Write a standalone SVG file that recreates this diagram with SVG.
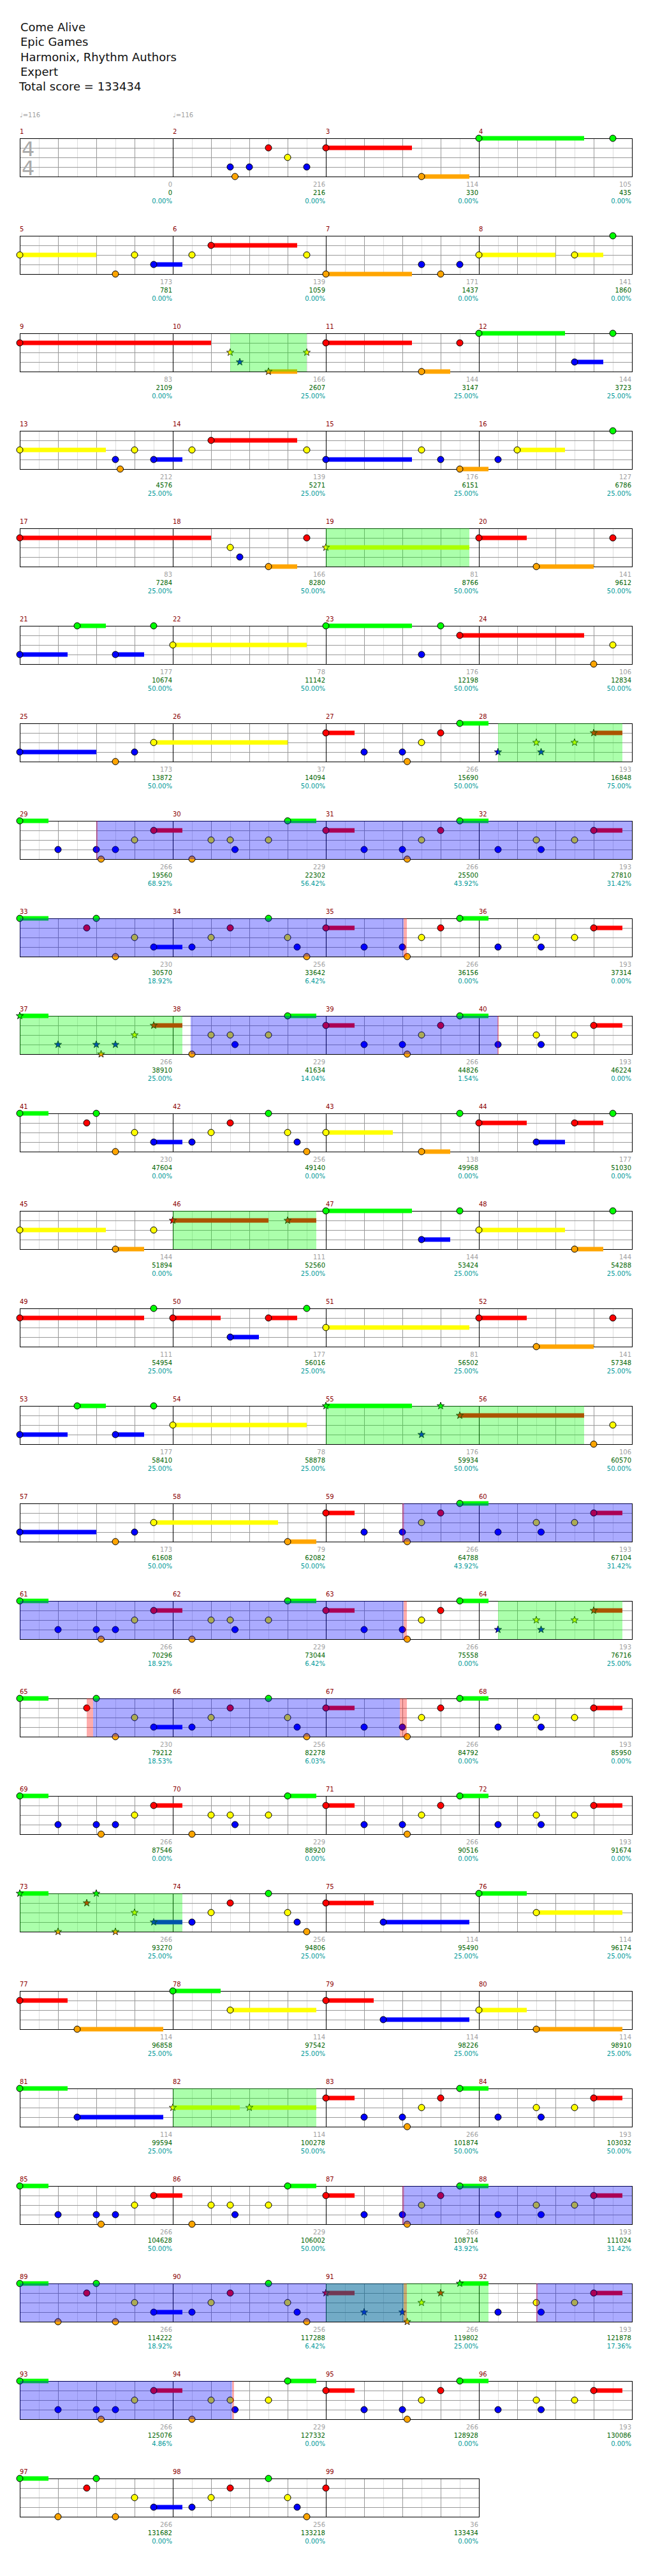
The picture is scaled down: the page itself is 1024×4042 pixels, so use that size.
<svg xmlns="http://www.w3.org/2000/svg" xmlns:xlink="http://www.w3.org/1999/xlink" width="1024" height="4042" viewBox="0 0 1024 4042">
<style>
text{font-family:"DejaVu Sans",Verdana,sans-serif}
.h{font-size:18px;fill:#111}
.mn{font-size:10px;fill:#8b0000}
.t{font-size:10px;fill:#a0a0a0}
.s1,.s2,.s3{font-size:10px;text-anchor:end}
.s1{fill:#a0a0a0}.s2{fill:#006400}.s3{fill:#009999}
.ts{font-size:32px;fill:#aaa}
.lt{stroke:#ddd;fill:none}.gr{stroke:#999;fill:none}.bk{stroke:#000;fill:none}
.G{fill:#0f0}.R{fill:#f00}.Y{fill:#ff0}.B{fill:#00f}.O{fill:#ffa500}
circle{stroke:#000;stroke-width:1}
.sp{fill:#0f0;fill-opacity:.33}.od{fill:#00f;fill-opacity:.33}.rs{fill:#f00;fill-opacity:.33}
</style>
<defs>
<path id="st" d="M0-6L1.41-1.94 5.71-1.85 2.28.74 3.53 4.85 0 2.4-3.53 4.85-2.28.74-5.71-1.85-1.41-1.94Z" stroke="#000" stroke-width=".8"/>
<g id="grid4" shape-rendering="crispEdges">
<path class="lt" d="M61 0v60M121 0v60M181 0v60M241 0v60M301 0v60M361 0v60M421 0v60M481 0v60M541 0v60M601 0v60M661 0v60M721 0v60M781 0v60M841 0v60M901 0v60M961 0v60"/>
<path class="gr" d="M91 0v60M151 0v60M211 0v60M331 0v60M391 0v60M451 0v60M571 0v60M631 0v60M691 0v60M811 0v60M871 0v60M931 0v60M31 15H991M31 30H991M31 45H991"/>
<path class="bk" d="M31 0H991V60H31ZM271 0v60M511 0v60M751 0v60"/>
</g>
<g id="grid3" shape-rendering="crispEdges">
<path class="lt" d="M61 0v60M121 0v60M181 0v60M241 0v60M301 0v60M361 0v60M421 0v60M481 0v60M541 0v60M601 0v60M661 0v60M721 0v60"/>
<path class="gr" d="M91 0v60M151 0v60M211 0v60M331 0v60M391 0v60M451 0v60M571 0v60M631 0v60M691 0v60M31 15H751M31 30H751M31 45H751"/>
<path class="bk" d="M31 0H751V60H31ZM271 0v60M511 0v60"/>
</g>
<g id="p1">
<rect class="G" x="31" y="-3.5" width="45" height="7"/><rect class="R" x="241" y="11.5" width="45" height="7"/><rect class="G" x="451" y="-3.5" width="45" height="7"/>
<circle class="G" cx="31" cy="0" r="5"/><circle class="B" cx="91" cy="45" r="5"/><circle class="B" cx="151" cy="45" r="5"/><circle class="O" cx="158.5" cy="60" r="5"/><circle class="B" cx="181" cy="45" r="5"/><circle class="Y" cx="211" cy="30" r="5"/><circle class="R" cx="241" cy="15" r="5"/><circle class="O" cx="301" cy="60" r="5"/><circle class="Y" cx="331" cy="30" r="5"/><circle class="Y" cx="361" cy="30" r="5"/><circle class="B" cx="368.5" cy="45" r="5"/><circle class="Y" cx="421" cy="30" r="5"/><circle class="G" cx="451" cy="0" r="5"/>
</g>
<g id="p2a">
<rect class="R" x="511" y="11.5" width="45" height="7"/><rect class="G" x="721" y="-3.5" width="45" height="7"/><rect class="R" x="931" y="11.5" width="45" height="7"/>
<circle class="R" cx="511" cy="15" r="5"/><circle class="B" cx="571" cy="45" r="5"/><circle class="B" cx="631" cy="45" r="5"/><circle class="O" cx="638.5" cy="60" r="5"/><circle class="Y" cx="661" cy="30" r="5"/><circle class="R" cx="691" cy="15" r="5"/><circle class="G" cx="721" cy="0" r="5"/>
</g>
<g id="p2">
<use href="#p2a"/>
<circle class="B" cx="781" cy="45" r="5"/><circle class="Y" cx="841" cy="30" r="5"/><circle class="B" cx="848.5" cy="45" r="5"/><circle class="Y" cx="901" cy="30" r="5"/><circle class="R" cx="931" cy="15" r="5"/>
</g>
<g id="p2s">
<use href="#p2a"/>
<use href="#st" class="B" x="781" y="45"/><use href="#st" class="Y" x="841" y="30"/><use href="#st" class="B" x="848.5" y="45"/><use href="#st" class="Y" x="901" y="30"/><use href="#st" class="R" x="931" y="15"/>
</g>
<g id="p3">
<rect class="G" x="31" y="-3.5" width="45" height="7"/><rect class="B" x="241" y="41.5" width="45" height="7"/>
<circle class="G" cx="31" cy="0" r="5"/><circle class="R" cx="136" cy="15" r="5"/><circle class="G" cx="151" cy="0" r="5"/><circle class="O" cx="181" cy="60" r="5"/><circle class="Y" cx="211" cy="30" r="5"/><circle class="B" cx="241" cy="45" r="5"/><circle class="B" cx="301" cy="45" r="5"/><circle class="Y" cx="331" cy="30" r="5"/><circle class="R" cx="361" cy="15" r="5"/><circle class="G" cx="421" cy="0" r="5"/><circle class="Y" cx="451" cy="30" r="5"/><circle class="B" cx="466" cy="45" r="5"/><circle class="O" cx="481" cy="60" r="5"/>
</g>
</defs>
<rect width="1024" height="4042" fill="#fff"/>
<g id="header">
<text class="h" x="32" y="49">Come Alive</text>
<text class="h" x="32" y="72">Epic Games</text>
<text class="h" x="32" y="96">Harmonix, Rhythm Authors</text>
<text class="h" x="32" y="119">Expert</text>
<text class="h" x="30" y="142">Total score = 133434</text>
</g>

<g id="row1" transform="translate(0,217)">
<use href="#grid4"/>
<text class="ts" x="34" y="28">4</text><text class="ts" x="34" y="58">4</text>
<rect class="R" x="511" y="11.5" width="135" height="7"/><rect class="O" x="661" y="56.5" width="75" height="7"/><rect class="G" x="751" y="-3.5" width="165" height="7"/>
<circle class="B" cx="361" cy="45" r="5"/><circle class="O" cx="368.5" cy="60" r="5"/><circle class="B" cx="391" cy="45" r="5"/><circle class="R" cx="421" cy="15" r="5"/><circle class="Y" cx="451" cy="30" r="5"/><circle class="B" cx="481" cy="45" r="5"/><circle class="R" cx="511" cy="15" r="5"/><circle class="O" cx="661" cy="60" r="5"/><circle class="G" cx="751" cy="0" r="5"/><circle class="G" cx="961" cy="0" r="5"/>
<text class="t" x="31" y="-33">♩=116</text><text class="t" x="271" y="-33">♩=116</text>
<text class="mn" x="31" y="-7">1</text><text class="mn" x="271" y="-7">2</text><text class="mn" x="511" y="-7">3</text><text class="mn" x="751" y="-7">4</text>
<text class="s1" x="270" y="76">0</text><text class="s2" x="270" y="89">0</text><text class="s3" x="270" y="102">0.00%</text>
<text class="s1" x="510" y="76">216</text><text class="s2" x="510" y="89">216</text><text class="s3" x="510" y="102">0.00%</text>
<text class="s1" x="750" y="76">114</text><text class="s2" x="750" y="89">330</text><text class="s3" x="750" y="102">0.00%</text>
<text class="s1" x="990" y="76">105</text><text class="s2" x="990" y="89">435</text><text class="s3" x="990" y="102">0.00%</text>
</g>

<g id="row2" transform="translate(0,370)">
<use href="#grid4"/>
<rect class="Y" x="31" y="26.5" width="120" height="7"/><rect class="B" x="241" y="41.5" width="45" height="7"/><rect class="R" x="331" y="11.5" width="135" height="7"/><rect class="O" x="511" y="56.5" width="135" height="7"/><rect class="Y" x="751" y="26.5" width="120" height="7"/><rect class="Y" x="901" y="26.5" width="45" height="7"/>
<circle class="Y" cx="31" cy="30" r="5"/><circle class="O" cx="181" cy="60" r="5"/><circle class="Y" cx="211" cy="30" r="5"/><circle class="B" cx="241" cy="45" r="5"/><circle class="Y" cx="301" cy="30" r="5"/><circle class="R" cx="331" cy="15" r="5"/><circle class="Y" cx="481" cy="30" r="5"/><circle class="O" cx="511" cy="60" r="5"/><circle class="B" cx="661" cy="45" r="5"/><circle class="O" cx="691" cy="60" r="5"/><circle class="B" cx="721" cy="45" r="5"/><circle class="Y" cx="751" cy="30" r="5"/><circle class="Y" cx="901" cy="30" r="5"/><circle class="G" cx="961" cy="0" r="5"/>
<text class="mn" x="31" y="-7">5</text><text class="mn" x="271" y="-7">6</text><text class="mn" x="511" y="-7">7</text><text class="mn" x="751" y="-7">8</text>
<text class="s1" x="270" y="76">173</text><text class="s2" x="270" y="89">781</text><text class="s3" x="270" y="102">0.00%</text>
<text class="s1" x="510" y="76">139</text><text class="s2" x="510" y="89">1059</text><text class="s3" x="510" y="102">0.00%</text>
<text class="s1" x="750" y="76">171</text><text class="s2" x="750" y="89">1437</text><text class="s3" x="750" y="102">0.00%</text>
<text class="s1" x="990" y="76">141</text><text class="s2" x="990" y="89">1860</text><text class="s3" x="990" y="102">0.00%</text>
</g>

<g id="row3" transform="translate(0,523)">
<use href="#grid4"/>
<rect class="R" x="31" y="11.5" width="300" height="7"/><rect class="O" x="421" y="56.5" width="45" height="7"/><rect class="R" x="511" y="11.5" width="135" height="7"/><rect class="O" x="661" y="56.5" width="45" height="7"/><rect class="G" x="751" y="-3.5" width="135" height="7"/><rect class="B" x="901" y="41.5" width="45" height="7"/>
<circle class="R" cx="31" cy="15" r="5"/><circle class="R" cx="511" cy="15" r="5"/><circle class="O" cx="661" cy="60" r="5"/><circle class="R" cx="721" cy="15" r="5"/><circle class="G" cx="751" cy="0" r="5"/><circle class="B" cx="901" cy="45" r="5"/><circle class="G" cx="961" cy="0" r="5"/>
<use href="#st" class="Y" x="361" y="30"/><use href="#st" class="B" x="376" y="45"/><use href="#st" class="O" x="421" y="60"/><use href="#st" class="Y" x="481" y="30"/>
<rect class="sp" x="361" y="0" width="120" height="60"/>
<text class="mn" x="31" y="-7">9</text><text class="mn" x="271" y="-7">10</text><text class="mn" x="511" y="-7">11</text><text class="mn" x="751" y="-7">12</text>
<text class="s1" x="270" y="76">83</text><text class="s2" x="270" y="89">2109</text><text class="s3" x="270" y="102">0.00%</text>
<text class="s1" x="510" y="76">166</text><text class="s2" x="510" y="89">2607</text><text class="s3" x="510" y="102">25.00%</text>
<text class="s1" x="750" y="76">144</text><text class="s2" x="750" y="89">3147</text><text class="s3" x="750" y="102">25.00%</text>
<text class="s1" x="990" y="76">144</text><text class="s2" x="990" y="89">3723</text><text class="s3" x="990" y="102">25.00%</text>
</g>

<g id="row4" transform="translate(0,676)">
<use href="#grid4"/>
<rect class="Y" x="31" y="26.5" width="135" height="7"/><rect class="B" x="241" y="41.5" width="45" height="7"/><rect class="R" x="331" y="11.5" width="135" height="7"/><rect class="B" x="511" y="41.5" width="135" height="7"/><rect class="O" x="721" y="56.5" width="45" height="7"/><rect class="Y" x="811" y="26.5" width="75" height="7"/>
<circle class="Y" cx="31" cy="30" r="5"/><circle class="B" cx="181" cy="45" r="5"/><circle class="O" cx="188.5" cy="60" r="5"/><circle class="Y" cx="211" cy="30" r="5"/><circle class="B" cx="241" cy="45" r="5"/><circle class="Y" cx="301" cy="30" r="5"/><circle class="R" cx="331" cy="15" r="5"/><circle class="Y" cx="481" cy="30" r="5"/><circle class="B" cx="511" cy="45" r="5"/><circle class="Y" cx="661" cy="30" r="5"/><circle class="B" cx="691" cy="45" r="5"/><circle class="O" cx="721" cy="60" r="5"/><circle class="B" cx="781" cy="45" r="5"/><circle class="Y" cx="811" cy="30" r="5"/><circle class="G" cx="961" cy="0" r="5"/>
<text class="mn" x="31" y="-7">13</text><text class="mn" x="271" y="-7">14</text><text class="mn" x="511" y="-7">15</text><text class="mn" x="751" y="-7">16</text>
<text class="s1" x="270" y="76">212</text><text class="s2" x="270" y="89">4576</text><text class="s3" x="270" y="102">25.00%</text>
<text class="s1" x="510" y="76">139</text><text class="s2" x="510" y="89">5271</text><text class="s3" x="510" y="102">25.00%</text>
<text class="s1" x="750" y="76">176</text><text class="s2" x="750" y="89">6151</text><text class="s3" x="750" y="102">25.00%</text>
<text class="s1" x="990" y="76">127</text><text class="s2" x="990" y="89">6786</text><text class="s3" x="990" y="102">25.00%</text>
</g>

<g id="row5" transform="translate(0,829)">
<use href="#grid4"/>
<rect class="R" x="31" y="11.5" width="300" height="7"/><rect class="O" x="421" y="56.5" width="45" height="7"/><rect class="Y" x="511" y="26.5" width="225" height="7"/><rect class="R" x="751" y="11.5" width="75" height="7"/><rect class="O" x="841" y="56.5" width="90" height="7"/>
<circle class="R" cx="31" cy="15" r="5"/><circle class="Y" cx="361" cy="30" r="5"/><circle class="B" cx="376" cy="45" r="5"/><circle class="O" cx="421" cy="60" r="5"/><circle class="R" cx="481" cy="15" r="5"/><circle class="R" cx="751" cy="15" r="5"/><circle class="O" cx="841" cy="60" r="5"/><circle class="R" cx="961" cy="15" r="5"/>
<use href="#st" class="Y" x="511" y="30"/>
<rect class="sp" x="511" y="0" width="225" height="60"/>
<text class="mn" x="31" y="-7">17</text><text class="mn" x="271" y="-7">18</text><text class="mn" x="511" y="-7">19</text><text class="mn" x="751" y="-7">20</text>
<text class="s1" x="270" y="76">83</text><text class="s2" x="270" y="89">7284</text><text class="s3" x="270" y="102">25.00%</text>
<text class="s1" x="510" y="76">166</text><text class="s2" x="510" y="89">8280</text><text class="s3" x="510" y="102">50.00%</text>
<text class="s1" x="750" y="76">81</text><text class="s2" x="750" y="89">8766</text><text class="s3" x="750" y="102">50.00%</text>
<text class="s1" x="990" y="76">141</text><text class="s2" x="990" y="89">9612</text><text class="s3" x="990" y="102">50.00%</text>
</g>

<g id="row6" transform="translate(0,982)">
<use href="#grid4"/>
<rect class="B" x="31" y="41.5" width="75" height="7"/><rect class="G" x="121" y="-3.5" width="45" height="7"/><rect class="B" x="181" y="41.5" width="45" height="7"/><rect class="Y" x="271" y="26.5" width="210" height="7"/><rect class="G" x="511" y="-3.5" width="135" height="7"/><rect class="R" x="721" y="11.5" width="195" height="7"/>
<circle class="B" cx="31" cy="45" r="5"/><circle class="G" cx="121" cy="0" r="5"/><circle class="B" cx="181" cy="45" r="5"/><circle class="G" cx="241" cy="0" r="5"/><circle class="Y" cx="271" cy="30" r="5"/><circle class="G" cx="511" cy="0" r="5"/><circle class="B" cx="661" cy="45" r="5"/><circle class="G" cx="691" cy="0" r="5"/><circle class="R" cx="721" cy="15" r="5"/><circle class="O" cx="931" cy="60" r="5"/><circle class="Y" cx="961" cy="30" r="5"/>
<text class="mn" x="31" y="-7">21</text><text class="mn" x="271" y="-7">22</text><text class="mn" x="511" y="-7">23</text><text class="mn" x="751" y="-7">24</text>
<text class="s1" x="270" y="76">177</text><text class="s2" x="270" y="89">10674</text><text class="s3" x="270" y="102">50.00%</text>
<text class="s1" x="510" y="76">78</text><text class="s2" x="510" y="89">11142</text><text class="s3" x="510" y="102">50.00%</text>
<text class="s1" x="750" y="76">176</text><text class="s2" x="750" y="89">12198</text><text class="s3" x="750" y="102">50.00%</text>
<text class="s1" x="990" y="76">106</text><text class="s2" x="990" y="89">12834</text><text class="s3" x="990" y="102">50.00%</text>
</g>

<g id="row7" transform="translate(0,1135)">
<use href="#grid4"/>
<rect class="B" x="31" y="41.5" width="120" height="7"/><rect class="Y" x="241" y="26.5" width="210" height="7"/>
<circle class="B" cx="31" cy="45" r="5"/><circle class="O" cx="181" cy="60" r="5"/><circle class="B" cx="211" cy="45" r="5"/><circle class="Y" cx="241" cy="30" r="5"/>
<use href="#p2s"/>
<rect class="sp" x="781" y="0" width="195" height="60"/>
<text class="mn" x="31" y="-7">25</text><text class="mn" x="271" y="-7">26</text><text class="mn" x="511" y="-7">27</text><text class="mn" x="751" y="-7">28</text>
<text class="s1" x="270" y="76">173</text><text class="s2" x="270" y="89">13872</text><text class="s3" x="270" y="102">50.00%</text>
<text class="s1" x="510" y="76">37</text><text class="s2" x="510" y="89">14094</text><text class="s3" x="510" y="102">50.00%</text>
<text class="s1" x="750" y="76">266</text><text class="s2" x="750" y="89">15690</text><text class="s3" x="750" y="102">50.00%</text>
<text class="s1" x="990" y="76">193</text><text class="s2" x="990" y="89">16848</text><text class="s3" x="990" y="102">75.00%</text>
</g>

<g id="row8" transform="translate(0,1288)">
<use href="#grid4"/>
<use href="#p1"/><use href="#p2"/>
<rect class="od" x="151" y="0" width="840" height="60"/><rect class="rs" x="151" y="0" width="2" height="60"/>
<text class="mn" x="31" y="-7">29</text><text class="mn" x="271" y="-7">30</text><text class="mn" x="511" y="-7">31</text><text class="mn" x="751" y="-7">32</text>
<text class="s1" x="270" y="76">266</text><text class="s2" x="270" y="89">19560</text><text class="s3" x="270" y="102">68.92%</text>
<text class="s1" x="510" y="76">229</text><text class="s2" x="510" y="89">22302</text><text class="s3" x="510" y="102">56.42%</text>
<text class="s1" x="750" y="76">266</text><text class="s2" x="750" y="89">25500</text><text class="s3" x="750" y="102">43.92%</text>
<text class="s1" x="990" y="76">193</text><text class="s2" x="990" y="89">27810</text><text class="s3" x="990" y="102">31.42%</text>
</g>

<g id="row9" transform="translate(0,1441)">
<use href="#grid4"/>
<use href="#p3"/><use href="#p2"/>
<rect class="od" x="31" y="0" width="602" height="60"/><rect class="rs" x="633" y="0" width="5" height="60"/>
<text class="mn" x="31" y="-7">33</text><text class="mn" x="271" y="-7">34</text><text class="mn" x="511" y="-7">35</text><text class="mn" x="751" y="-7">36</text>
<text class="s1" x="270" y="76">230</text><text class="s2" x="270" y="89">30570</text><text class="s3" x="270" y="102">18.92%</text>
<text class="s1" x="510" y="76">256</text><text class="s2" x="510" y="89">33642</text><text class="s3" x="510" y="102">6.42%</text>
<text class="s1" x="750" y="76">266</text><text class="s2" x="750" y="89">36156</text><text class="s3" x="750" y="102">0.00%</text>
<text class="s1" x="990" y="76">193</text><text class="s2" x="990" y="89">37314</text><text class="s3" x="990" y="102">0.00%</text>
</g>

<g id="row10" transform="translate(0,1594)">
<use href="#grid4"/>
<rect class="G" x="31" y="-3.5" width="45" height="7"/><rect class="R" x="241" y="11.5" width="45" height="7"/><rect class="G" x="451" y="-3.5" width="45" height="7"/>
<use href="#st" class="G" x="31" y="0"/><use href="#st" class="B" x="91" y="45"/><use href="#st" class="B" x="151" y="45"/><use href="#st" class="O" x="158.5" y="60"/><use href="#st" class="B" x="181" y="45"/><use href="#st" class="Y" x="211" y="30"/><use href="#st" class="R" x="241" y="15"/>
<circle class="O" cx="301" cy="60" r="5"/><circle class="Y" cx="331" cy="30" r="5"/><circle class="Y" cx="361" cy="30" r="5"/><circle class="B" cx="368.5" cy="45" r="5"/><circle class="Y" cx="421" cy="30" r="5"/><circle class="G" cx="451" cy="0" r="5"/>
<use href="#p2"/>
<rect class="sp" x="31" y="0" width="255" height="60"/>
<rect class="od" x="299" y="0" width="482" height="60"/><rect class="rs" x="780" y="0" width="2" height="60"/>
<text class="mn" x="31" y="-7">37</text><text class="mn" x="271" y="-7">38</text><text class="mn" x="511" y="-7">39</text><text class="mn" x="751" y="-7">40</text>
<text class="s1" x="270" y="76">266</text><text class="s2" x="270" y="89">38910</text><text class="s3" x="270" y="102">25.00%</text>
<text class="s1" x="510" y="76">229</text><text class="s2" x="510" y="89">41634</text><text class="s3" x="510" y="102">14.04%</text>
<text class="s1" x="750" y="76">266</text><text class="s2" x="750" y="89">44826</text><text class="s3" x="750" y="102">1.54%</text>
<text class="s1" x="990" y="76">193</text><text class="s2" x="990" y="89">46224</text><text class="s3" x="990" y="102">0.00%</text>
</g>

<g id="row11" transform="translate(0,1747)">
<use href="#grid4"/>
<use href="#p3"/>
<rect class="Y" x="511" y="26.5" width="105" height="7"/><rect class="O" x="661" y="56.5" width="45" height="7"/><rect class="R" x="751" y="11.5" width="75" height="7"/><rect class="B" x="841" y="41.5" width="45" height="7"/><rect class="R" x="901" y="11.5" width="45" height="7"/>
<circle class="Y" cx="511" cy="30" r="5"/><circle class="O" cx="661" cy="60" r="5"/><circle class="G" cx="721" cy="0" r="5"/><circle class="R" cx="751" cy="15" r="5"/><circle class="B" cx="841" cy="45" r="5"/><circle class="R" cx="901" cy="15" r="5"/><circle class="G" cx="961" cy="0" r="5"/>
<text class="mn" x="31" y="-7">41</text><text class="mn" x="271" y="-7">42</text><text class="mn" x="511" y="-7">43</text><text class="mn" x="751" y="-7">44</text>
<text class="s1" x="270" y="76">230</text><text class="s2" x="270" y="89">47604</text><text class="s3" x="270" y="102">0.00%</text>
<text class="s1" x="510" y="76">256</text><text class="s2" x="510" y="89">49140</text><text class="s3" x="510" y="102">0.00%</text>
<text class="s1" x="750" y="76">138</text><text class="s2" x="750" y="89">49968</text><text class="s3" x="750" y="102">0.00%</text>
<text class="s1" x="990" y="76">177</text><text class="s2" x="990" y="89">51030</text><text class="s3" x="990" y="102">0.00%</text>
</g>

<g id="row12" transform="translate(0,1900)">
<use href="#grid4"/>
<rect class="Y" x="31" y="26.5" width="135" height="7"/><rect class="O" x="181" y="56.5" width="45" height="7"/><rect class="R" x="271" y="11.5" width="150" height="7"/><rect class="R" x="451" y="11.5" width="45" height="7"/><rect class="G" x="511" y="-3.5" width="135" height="7"/><rect class="B" x="661" y="41.5" width="45" height="7"/><rect class="Y" x="751" y="26.5" width="135" height="7"/><rect class="O" x="901" y="56.5" width="45" height="7"/>
<circle class="Y" cx="31" cy="30" r="5"/><circle class="O" cx="181" cy="60" r="5"/><circle class="Y" cx="241" cy="30" r="5"/><circle class="G" cx="511" cy="0" r="5"/><circle class="B" cx="661" cy="45" r="5"/><circle class="G" cx="721" cy="0" r="5"/><circle class="Y" cx="751" cy="30" r="5"/><circle class="O" cx="901" cy="60" r="5"/><circle class="G" cx="961" cy="0" r="5"/>
<use href="#st" class="R" x="271" y="15"/><use href="#st" class="R" x="451" y="15"/>
<rect class="sp" x="271" y="0" width="225" height="60"/>
<text class="mn" x="31" y="-7">45</text><text class="mn" x="271" y="-7">46</text><text class="mn" x="511" y="-7">47</text><text class="mn" x="751" y="-7">48</text>
<text class="s1" x="270" y="76">144</text><text class="s2" x="270" y="89">51894</text><text class="s3" x="270" y="102">0.00%</text>
<text class="s1" x="510" y="76">111</text><text class="s2" x="510" y="89">52560</text><text class="s3" x="510" y="102">25.00%</text>
<text class="s1" x="750" y="76">144</text><text class="s2" x="750" y="89">53424</text><text class="s3" x="750" y="102">25.00%</text>
<text class="s1" x="990" y="76">144</text><text class="s2" x="990" y="89">54288</text><text class="s3" x="990" y="102">25.00%</text>
</g>

<g id="row13" transform="translate(0,2053)">
<use href="#grid4"/>
<rect class="R" x="31" y="11.5" width="195" height="7"/><rect class="R" x="271" y="11.5" width="75" height="7"/><rect class="B" x="361" y="41.5" width="45" height="7"/><rect class="R" x="421" y="11.5" width="45" height="7"/><rect class="Y" x="511" y="26.5" width="225" height="7"/><rect class="R" x="751" y="11.5" width="75" height="7"/><rect class="O" x="841" y="56.5" width="90" height="7"/>
<circle class="R" cx="31" cy="15" r="5"/><circle class="G" cx="241" cy="0" r="5"/><circle class="R" cx="271" cy="15" r="5"/><circle class="B" cx="361" cy="45" r="5"/><circle class="R" cx="421" cy="15" r="5"/><circle class="G" cx="481" cy="0" r="5"/><circle class="Y" cx="511" cy="30" r="5"/><circle class="R" cx="751" cy="15" r="5"/><circle class="O" cx="841" cy="60" r="5"/><circle class="R" cx="961" cy="15" r="5"/>
<text class="mn" x="31" y="-7">49</text><text class="mn" x="271" y="-7">50</text><text class="mn" x="511" y="-7">51</text><text class="mn" x="751" y="-7">52</text>
<text class="s1" x="270" y="76">111</text><text class="s2" x="270" y="89">54954</text><text class="s3" x="270" y="102">25.00%</text>
<text class="s1" x="510" y="76">177</text><text class="s2" x="510" y="89">56016</text><text class="s3" x="510" y="102">25.00%</text>
<text class="s1" x="750" y="76">81</text><text class="s2" x="750" y="89">56502</text><text class="s3" x="750" y="102">25.00%</text>
<text class="s1" x="990" y="76">141</text><text class="s2" x="990" y="89">57348</text><text class="s3" x="990" y="102">25.00%</text>
</g>

<g id="row14" transform="translate(0,2206)">
<use href="#grid4"/>
<rect class="B" x="31" y="41.5" width="75" height="7"/><rect class="G" x="121" y="-3.5" width="45" height="7"/><rect class="B" x="181" y="41.5" width="45" height="7"/><rect class="Y" x="271" y="26.5" width="210" height="7"/><rect class="G" x="511" y="-3.5" width="135" height="7"/><rect class="R" x="721" y="11.5" width="195" height="7"/>
<circle class="B" cx="31" cy="45" r="5"/><circle class="G" cx="121" cy="0" r="5"/><circle class="B" cx="181" cy="45" r="5"/><circle class="G" cx="241" cy="0" r="5"/><circle class="Y" cx="271" cy="30" r="5"/><circle class="O" cx="931" cy="60" r="5"/><circle class="Y" cx="961" cy="30" r="5"/>
<use href="#st" class="G" x="511" y="0"/><use href="#st" class="B" x="661" y="45"/><use href="#st" class="G" x="691" y="0"/><use href="#st" class="R" x="721" y="15"/>
<rect class="sp" x="511" y="0" width="405" height="60"/>
<text class="mn" x="31" y="-7">53</text><text class="mn" x="271" y="-7">54</text><text class="mn" x="511" y="-7">55</text><text class="mn" x="751" y="-7">56</text>
<text class="s1" x="270" y="76">177</text><text class="s2" x="270" y="89">58410</text><text class="s3" x="270" y="102">25.00%</text>
<text class="s1" x="510" y="76">78</text><text class="s2" x="510" y="89">58878</text><text class="s3" x="510" y="102">25.00%</text>
<text class="s1" x="750" y="76">176</text><text class="s2" x="750" y="89">59934</text><text class="s3" x="750" y="102">50.00%</text>
<text class="s1" x="990" y="76">106</text><text class="s2" x="990" y="89">60570</text><text class="s3" x="990" y="102">50.00%</text>
</g>

<g id="row15" transform="translate(0,2359)">
<use href="#grid4"/>
<rect class="B" x="31" y="41.5" width="120" height="7"/><rect class="Y" x="241" y="26.5" width="195" height="7"/><rect class="O" x="451" y="56.5" width="45" height="7"/>
<circle class="B" cx="31" cy="45" r="5"/><circle class="O" cx="181" cy="60" r="5"/><circle class="B" cx="211" cy="45" r="5"/><circle class="Y" cx="241" cy="30" r="5"/><circle class="O" cx="451" cy="60" r="5"/>
<use href="#p2"/>
<rect class="od" x="631" y="0" width="360" height="60"/><rect class="rs" x="631" y="0" width="2.5" height="60"/>
<text class="mn" x="31" y="-7">57</text><text class="mn" x="271" y="-7">58</text><text class="mn" x="511" y="-7">59</text><text class="mn" x="751" y="-7">60</text>
<text class="s1" x="270" y="76">173</text><text class="s2" x="270" y="89">61608</text><text class="s3" x="270" y="102">50.00%</text>
<text class="s1" x="510" y="76">79</text><text class="s2" x="510" y="89">62082</text><text class="s3" x="510" y="102">50.00%</text>
<text class="s1" x="750" y="76">266</text><text class="s2" x="750" y="89">64788</text><text class="s3" x="750" y="102">43.92%</text>
<text class="s1" x="990" y="76">193</text><text class="s2" x="990" y="89">67104</text><text class="s3" x="990" y="102">31.42%</text>
</g>

<g id="row16" transform="translate(0,2512)">
<use href="#grid4"/>
<use href="#p1"/><use href="#p2s"/>
<rect class="sp" x="781" y="0" width="195" height="60"/>
<rect class="od" x="31" y="0" width="602" height="60"/><rect class="rs" x="633" y="0" width="5" height="60"/>
<text class="mn" x="31" y="-7">61</text><text class="mn" x="271" y="-7">62</text><text class="mn" x="511" y="-7">63</text><text class="mn" x="751" y="-7">64</text>
<text class="s1" x="270" y="76">266</text><text class="s2" x="270" y="89">70296</text><text class="s3" x="270" y="102">18.92%</text>
<text class="s1" x="510" y="76">229</text><text class="s2" x="510" y="89">73044</text><text class="s3" x="510" y="102">6.42%</text>
<text class="s1" x="750" y="76">266</text><text class="s2" x="750" y="89">75558</text><text class="s3" x="750" y="102">0.00%</text>
<text class="s1" x="990" y="76">193</text><text class="s2" x="990" y="89">76716</text><text class="s3" x="990" y="102">25.00%</text>
</g>

<g id="row17" transform="translate(0,2665)">
<use href="#grid4"/>
<use href="#p3"/><use href="#p2"/>
<rect class="rs" x="136" y="0" width="10" height="60"/><rect class="od" x="146" y="0" width="481" height="60"/><rect class="rs" x="627" y="0" width="11" height="60"/>
<text class="mn" x="31" y="-7">65</text><text class="mn" x="271" y="-7">66</text><text class="mn" x="511" y="-7">67</text><text class="mn" x="751" y="-7">68</text>
<text class="s1" x="270" y="76">230</text><text class="s2" x="270" y="89">79212</text><text class="s3" x="270" y="102">18.53%</text>
<text class="s1" x="510" y="76">256</text><text class="s2" x="510" y="89">82278</text><text class="s3" x="510" y="102">6.03%</text>
<text class="s1" x="750" y="76">266</text><text class="s2" x="750" y="89">84792</text><text class="s3" x="750" y="102">0.00%</text>
<text class="s1" x="990" y="76">193</text><text class="s2" x="990" y="89">85950</text><text class="s3" x="990" y="102">0.00%</text>
</g>

<g id="row18" transform="translate(0,2818)">
<use href="#grid4"/>
<use href="#p1"/><use href="#p2"/>
<text class="mn" x="31" y="-7">69</text><text class="mn" x="271" y="-7">70</text><text class="mn" x="511" y="-7">71</text><text class="mn" x="751" y="-7">72</text>
<text class="s1" x="270" y="76">266</text><text class="s2" x="270" y="89">87546</text><text class="s3" x="270" y="102">0.00%</text>
<text class="s1" x="510" y="76">229</text><text class="s2" x="510" y="89">88920</text><text class="s3" x="510" y="102">0.00%</text>
<text class="s1" x="750" y="76">266</text><text class="s2" x="750" y="89">90516</text><text class="s3" x="750" y="102">0.00%</text>
<text class="s1" x="990" y="76">193</text><text class="s2" x="990" y="89">91674</text><text class="s3" x="990" y="102">0.00%</text>
</g>

<g id="row19" transform="translate(0,2971)">
<use href="#grid4"/>
<rect class="G" x="31" y="-3.5" width="45" height="7"/><rect class="B" x="241" y="41.5" width="45" height="7"/><rect class="R" x="511" y="11.5" width="75" height="7"/><rect class="B" x="601" y="41.5" width="135" height="7"/><rect class="G" x="751" y="-3.5" width="75" height="7"/><rect class="Y" x="841" y="26.5" width="135" height="7"/>
<use href="#st" class="G" x="31" y="0"/><use href="#st" class="O" x="91" y="60"/><use href="#st" class="R" x="136" y="15"/><use href="#st" class="G" x="151" y="0"/><use href="#st" class="O" x="181" y="60"/><use href="#st" class="Y" x="211" y="30"/><use href="#st" class="B" x="241" y="45"/>
<circle class="B" cx="301" cy="45" r="5"/><circle class="Y" cx="331" cy="30" r="5"/><circle class="R" cx="361" cy="15" r="5"/><circle class="G" cx="421" cy="0" r="5"/><circle class="Y" cx="451" cy="30" r="5"/><circle class="B" cx="466" cy="45" r="5"/><circle class="O" cx="481" cy="60" r="5"/><circle class="R" cx="511" cy="15" r="5"/><circle class="B" cx="601" cy="45" r="5"/><circle class="G" cx="751" cy="0" r="5"/><circle class="Y" cx="841" cy="30" r="5"/>
<rect class="sp" x="31" y="0" width="255" height="60"/>
<text class="mn" x="31" y="-7">73</text><text class="mn" x="271" y="-7">74</text><text class="mn" x="511" y="-7">75</text><text class="mn" x="751" y="-7">76</text>
<text class="s1" x="270" y="76">266</text><text class="s2" x="270" y="89">93270</text><text class="s3" x="270" y="102">25.00%</text>
<text class="s1" x="510" y="76">256</text><text class="s2" x="510" y="89">94806</text><text class="s3" x="510" y="102">25.00%</text>
<text class="s1" x="750" y="76">114</text><text class="s2" x="750" y="89">95490</text><text class="s3" x="750" y="102">25.00%</text>
<text class="s1" x="990" y="76">114</text><text class="s2" x="990" y="89">96174</text><text class="s3" x="990" y="102">25.00%</text>
</g>

<g id="row20" transform="translate(0,3124)">
<use href="#grid4"/>
<rect class="R" x="31" y="11.5" width="75" height="7"/><rect class="O" x="121" y="56.5" width="135" height="7"/><rect class="G" x="271" y="-3.5" width="75" height="7"/><rect class="Y" x="361" y="26.5" width="135" height="7"/><rect class="R" x="511" y="11.5" width="75" height="7"/><rect class="B" x="601" y="41.5" width="135" height="7"/><rect class="Y" x="751" y="26.5" width="75" height="7"/><rect class="O" x="841" y="56.5" width="135" height="7"/>
<circle class="R" cx="31" cy="15" r="5"/><circle class="O" cx="121" cy="60" r="5"/><circle class="G" cx="271" cy="0" r="5"/><circle class="Y" cx="361" cy="30" r="5"/><circle class="R" cx="511" cy="15" r="5"/><circle class="B" cx="601" cy="45" r="5"/><circle class="Y" cx="751" cy="30" r="5"/><circle class="O" cx="841" cy="60" r="5"/>
<text class="mn" x="31" y="-7">77</text><text class="mn" x="271" y="-7">78</text><text class="mn" x="511" y="-7">79</text><text class="mn" x="751" y="-7">80</text>
<text class="s1" x="270" y="76">114</text><text class="s2" x="270" y="89">96858</text><text class="s3" x="270" y="102">25.00%</text>
<text class="s1" x="510" y="76">114</text><text class="s2" x="510" y="89">97542</text><text class="s3" x="510" y="102">25.00%</text>
<text class="s1" x="750" y="76">114</text><text class="s2" x="750" y="89">98226</text><text class="s3" x="750" y="102">25.00%</text>
<text class="s1" x="990" y="76">114</text><text class="s2" x="990" y="89">98910</text><text class="s3" x="990" y="102">25.00%</text>
</g>

<g id="row21" transform="translate(0,3277)">
<use href="#grid4"/>
<rect class="G" x="31" y="-3.5" width="75" height="7"/><rect class="B" x="121" y="41.5" width="135" height="7"/><rect class="Y" x="271" y="26.5" width="105" height="7"/><rect class="Y" x="391" y="26.5" width="105" height="7"/>
<circle class="G" cx="31" cy="0" r="5"/><circle class="B" cx="121" cy="45" r="5"/>
<use href="#st" class="Y" x="271" y="30"/><use href="#st" class="Y" x="391" y="30"/>
<use href="#p2"/>
<rect class="sp" x="271" y="0" width="225" height="60"/>
<text class="mn" x="31" y="-7">81</text><text class="mn" x="271" y="-7">82</text><text class="mn" x="511" y="-7">83</text><text class="mn" x="751" y="-7">84</text>
<text class="s1" x="270" y="76">114</text><text class="s2" x="270" y="89">99594</text><text class="s3" x="270" y="102">25.00%</text>
<text class="s1" x="510" y="76">114</text><text class="s2" x="510" y="89">100278</text><text class="s3" x="510" y="102">50.00%</text>
<text class="s1" x="750" y="76">266</text><text class="s2" x="750" y="89">101874</text><text class="s3" x="750" y="102">50.00%</text>
<text class="s1" x="990" y="76">193</text><text class="s2" x="990" y="89">103032</text><text class="s3" x="990" y="102">50.00%</text>
</g>

<g id="row22" transform="translate(0,3430)">
<use href="#grid4"/>
<use href="#p1"/><use href="#p2"/>
<rect class="od" x="631" y="0" width="360" height="60"/><rect class="rs" x="631" y="0" width="2.5" height="60"/>
<text class="mn" x="31" y="-7">85</text><text class="mn" x="271" y="-7">86</text><text class="mn" x="511" y="-7">87</text><text class="mn" x="751" y="-7">88</text>
<text class="s1" x="270" y="76">266</text><text class="s2" x="270" y="89">104628</text><text class="s3" x="270" y="102">50.00%</text>
<text class="s1" x="510" y="76">229</text><text class="s2" x="510" y="89">106002</text><text class="s3" x="510" y="102">50.00%</text>
<text class="s1" x="750" y="76">266</text><text class="s2" x="750" y="89">108714</text><text class="s3" x="750" y="102">43.92%</text>
<text class="s1" x="990" y="76">193</text><text class="s2" x="990" y="89">111024</text><text class="s3" x="990" y="102">31.42%</text>
</g>

<g id="row23" transform="translate(0,3583)">
<use href="#grid4"/>
<use href="#p3"/><circle class="O" cx="91" cy="60" r="5"/>
<rect class="R" x="511" y="11.5" width="45" height="7"/><rect class="G" x="721" y="-3.5" width="45" height="7"/><rect class="R" x="931" y="11.5" width="45" height="7"/>
<use href="#st" class="R" x="511" y="15"/><use href="#st" class="B" x="571" y="45"/><use href="#st" class="B" x="631" y="45"/><use href="#st" class="O" x="638.5" y="60"/><use href="#st" class="Y" x="661" y="30"/><use href="#st" class="R" x="691" y="15"/><use href="#st" class="G" x="721" y="0"/>
<circle class="B" cx="781" cy="45" r="5"/><circle class="Y" cx="841" cy="30" r="5"/><circle class="B" cx="848.5" cy="45" r="5"/><circle class="Y" cx="901" cy="30" r="5"/><circle class="R" cx="931" cy="15" r="5"/>
<rect class="sp" x="511" y="0" width="255" height="60"/>
<rect class="od" x="31" y="0" width="602" height="60"/><rect class="rs" x="633" y="0" width="5" height="60"/>
<rect class="od" x="841" y="0" width="150" height="60"/><rect class="rs" x="841" y="0" width="2" height="60"/>
<text class="mn" x="31" y="-7">89</text><text class="mn" x="271" y="-7">90</text><text class="mn" x="511" y="-7">91</text><text class="mn" x="751" y="-7">92</text>
<text class="s1" x="270" y="76">266</text><text class="s2" x="270" y="89">114222</text><text class="s3" x="270" y="102">18.92%</text>
<text class="s1" x="510" y="76">256</text><text class="s2" x="510" y="89">117288</text><text class="s3" x="510" y="102">6.42%</text>
<text class="s1" x="750" y="76">266</text><text class="s2" x="750" y="89">119802</text><text class="s3" x="750" y="102">25.00%</text>
<text class="s1" x="990" y="76">193</text><text class="s2" x="990" y="89">121878</text><text class="s3" x="990" y="102">17.36%</text>
</g>

<g id="row24" transform="translate(0,3736)">
<use href="#grid4"/>
<use href="#p1"/><use href="#p2"/>
<rect class="od" x="31" y="0" width="333" height="60"/><rect class="rs" x="364" y="0" width="3" height="60"/>
<text class="mn" x="31" y="-7">93</text><text class="mn" x="271" y="-7">94</text><text class="mn" x="511" y="-7">95</text><text class="mn" x="751" y="-7">96</text>
<text class="s1" x="270" y="76">266</text><text class="s2" x="270" y="89">125076</text><text class="s3" x="270" y="102">4.86%</text>
<text class="s1" x="510" y="76">229</text><text class="s2" x="510" y="89">127332</text><text class="s3" x="510" y="102">0.00%</text>
<text class="s1" x="750" y="76">266</text><text class="s2" x="750" y="89">128928</text><text class="s3" x="750" y="102">0.00%</text>
<text class="s1" x="990" y="76">193</text><text class="s2" x="990" y="89">130086</text><text class="s3" x="990" y="102">0.00%</text>
</g>

<g id="row25" transform="translate(0,3889)">
<use href="#grid3"/>
<use href="#p3"/><circle class="O" cx="91" cy="60" r="5"/><circle class="R" cx="511" cy="15" r="5"/>
<text class="mn" x="31" y="-7">97</text><text class="mn" x="271" y="-7">98</text><text class="mn" x="511" y="-7">99</text>
<text class="s1" x="270" y="76">266</text><text class="s2" x="270" y="89">131682</text><text class="s3" x="270" y="102">0.00%</text>
<text class="s1" x="510" y="76">256</text><text class="s2" x="510" y="89">133218</text><text class="s3" x="510" y="102">0.00%</text>
<text class="s1" x="750" y="76">36</text><text class="s2" x="750" y="89">133434</text><text class="s3" x="750" y="102">0.00%</text>
</g>
</svg>
